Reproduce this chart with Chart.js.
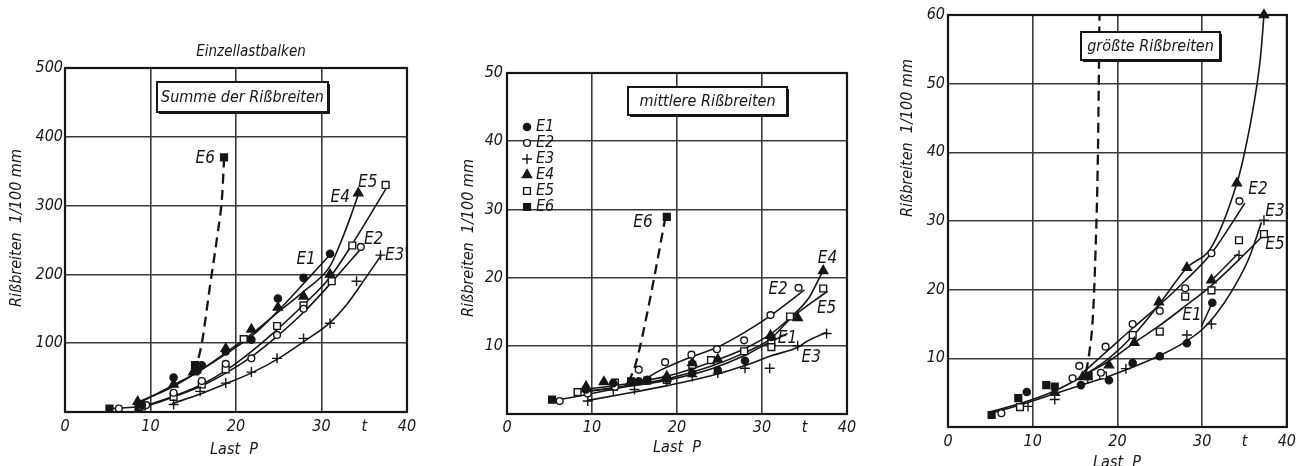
<!DOCTYPE html>
<html>
<head>
<meta charset="utf-8">
<script src="https://cdn.jsdelivr.net/npm/chart.js@4/dist/chart.umd.min.js"></script>
<style>
  html, body { margin: 0; padding: 0; background: #fff; }
  body { width: 1301px; height: 466px; position: relative; overflow: hidden; }
  canvas { position: absolute; top: 0; }
</style>
</head>
<body>
<canvas id="sumChart" width="440" height="466" style="left:0"></canvas>
<canvas id="meanChart" width="440" height="466" style="left:440px"></canvas>
<canvas id="maxChart" width="421" height="466" style="left:880px"></canvas>
<script>
// Load axis (t) shared by all three diagrams
const loadRange = [0, 40];
const seriesNames = ['E1', 'E2', 'E3', 'E4', 'E5', 'E6'];

// Summe der Rißbreiten (1/100 mm) - measured points
const sumE1 = [[9, 10], [12.7, 50], [15.5, 60], [16, 68], [18.8, 88], [21.8, 105], [24.9, 165], [27.9, 195], [31, 230]];
const sumE2 = [[6.3, 5], [9.5, 10], [12.7, 28], [16, 45], [18.8, 70], [21.8, 78], [24.8, 112], [27.9, 150], [34.6, 240]];
const sumE3 = [[12.7, 11], [15.8, 30], [18.8, 42], [21.8, 58], [24.8, 78], [27.9, 107], [31, 129], [34.1, 190], [36.9, 228]];
const sumE4 = [[8.5, 15], [12.7, 40], [15, 58], [18.8, 92], [21.8, 120], [24.9, 152], [27.9, 168], [31, 200], [34.3, 318]];
const sumE5 = [[9, 8], [12.7, 22], [16, 40], [18.8, 62], [20.9, 106], [24.8, 125], [27.9, 155], [31.2, 190], [33.6, 242], [37.5, 330]];
const sumE6 = [[5.2, 5], [8.6, 7], [15.2, 68], [18.6, 370]];
// Summe - fitted curves
const sumCurveE1 = [[8.5, 12], [12.5, 38], [15.5, 58], [19, 86], [22, 112], [25, 148], [28, 188], [30.8, 226]];
const sumCurveE2 = [[5.2, 5], [9.5, 9], [12.5, 21], [16, 38], [19, 58], [22, 82], [25, 112], [28, 146], [31, 186], [34.8, 240]];
const sumCurveE3 = [[12.5, 12], [16, 27], [19, 42], [22, 58], [25, 78], [28, 103], [31, 130], [33, 157], [35, 192], [37, 228]];
const sumCurveE4 = [[8.5, 14], [12.5, 36], [16, 62], [19, 88], [22, 115], [25, 146], [28, 176], [31, 212], [32.2, 245], [33.4, 284], [34.3, 316]];
const sumCurveE5 = [[9, 7], [12.5, 22], [16, 40], [19, 62], [22, 90], [25, 122], [28, 157], [31, 196], [34, 252], [37.7, 328]];
const sumCurveE6 = [[14.8, 58], [15.4, 70], [16, 100], [17, 187], [17.8, 255], [18.4, 318], [18.6, 367]];

// mittlere Rißbreiten - measured points
const meanE1 = [[9.3, 3.6], [12.5, 4.5], [15.5, 4.8], [16.5, 5], [18.8, 5.2], [21.8, 6], [24.8, 6.4], [28, 7.8], [31.1, 11.3]];
const meanE2 = [[6.2, 1.9], [9.5, 3], [12.7, 4], [15.5, 6.5], [18.6, 7.6], [21.7, 8.7], [24.7, 9.5], [27.9, 10.8], [31, 14.5], [34.3, 18.5]];
const meanE3 = [[9.5, 1.9], [12.5, 3.5], [15, 3.6], [18.8, 4.8], [21.8, 5.5], [24.8, 6], [28, 6.7], [30.9, 6.7], [34.2, 10], [37.6, 11.8]];
const meanE4 = [[9.3, 4], [11.4, 4.7], [14.5, 4.6], [18.8, 5.5], [21.8, 7.5], [24.8, 8], [31, 11.5], [34.2, 14.1], [37.2, 21]];
const meanE5 = [[8.3, 3.2], [12.7, 4.6], [16.5, 4.9], [18.8, 5], [21.8, 7.2], [24, 7.9], [27.9, 9.2], [31.1, 10.4], [31.1, 9.8], [33.3, 14.3], [37.2, 18.4]];
const meanE6 = [[5.3, 2.1], [14.6, 4.8], [18.8, 28.9]];
// mittlere - fitted curves
const meanCurveE1 = [[9.3, 3.3], [14, 4], [19, 5], [24, 6.6], [28, 8.6], [31, 10.6], [33, 11.8]];
const meanCurveE2 = [[5.3, 1.9], [9.5, 2.9], [14.5, 4.3], [16, 5], [18, 6.4], [21.5, 8.3], [24.6, 9.7], [28, 12], [31.1, 14.5], [35, 18.2]];
const meanCurveE3 = [[9.5, 2], [14, 3], [19, 4.2], [24, 5.6], [28, 7.1], [31, 8.5], [34.4, 9.9], [35.2, 10.6], [37.6, 12]];
const meanCurveE4 = [[9, 3.6], [14, 4.4], [19, 5.6], [24, 7.6], [28, 9.6], [31, 11.7], [33.2, 14], [35.5, 17], [37, 20.6]];
const meanCurveE5 = [[8.3, 3.2], [14, 4.1], [19, 5.2], [24, 7], [28, 9], [31, 11], [33.2, 13.8], [37.7, 18]];
const meanCurveE6 = [[14.3, 4.6], [15.2, 7.6], [16.8, 16.7], [18.6, 28.6]];

// größte Rißbreiten - measured points
const maxE1 = [[9.3, 5.1], [15.7, 6.1], [19, 6.8], [21.8, 9.3], [25, 10.3], [28.2, 12.2], [31.2, 18.1]];
const maxE2 = [[6.3, 2], [14.7, 7.1], [15.5, 8.9], [18.05, 7.9], [18.6, 11.7], [21.8, 15], [25, 16.9], [28, 20.2], [31.1, 25.3], [34.4, 32.9]];
const maxE3 = [[9.45, 3], [12.6, 4], [16.5, 7], [21, 8.5], [28.2, 13.4], [31.1, 15], [34.35, 25], [37.3, 30.1]];
const maxE4 = [[12.6, 5], [15.9, 7.3], [19, 9], [22, 12.3], [24.9, 18.2], [28.2, 23.2], [31.1, 21.4], [34.1, 35.5], [37.3, 60]];
const maxE5 = [[8.5, 2.9], [18.3, 7.5], [21.8, 13.4], [25, 13.9], [28, 19], [31.1, 19.9], [34.35, 27.2], [37.3, 28.1]];
const maxE6 = [[5.15, 1.75], [8.3, 4.2], [11.6, 6.1], [12.6, 5.9], [16.6, 7.4]];
// größte - fitted curves
const maxCurveE4 = [[5, 2.2], [9, 3.6], [12.5, 5.2], [16, 7.5], [19, 10], [22, 13.5], [25, 18], [28.2, 23.2], [31.1, 26.2], [34.1, 35.5], [35, 39.9], [36.2, 47.7], [36.9, 54], [37.3, 60]];
const maxCurveE2 = [[16, 8], [19, 11.3], [22, 14.6], [25, 17.8], [28, 21.3], [31.1, 25.3], [35.05, 32.6]];
const maxCurveE5 = [[16, 7.5], [19, 9.6], [22, 12.3], [25, 14.8], [28, 17.6], [31.1, 20.6], [34.3, 24.3], [37.3, 28]];
const maxCurveE3 = [[5, 2], [9, 3.4], [12.5, 4.8], [16, 6.2], [19, 7.4], [22, 8.8], [25, 10.4], [28, 12.4], [30, 14.2], [31.5, 16.2], [33.5, 19.8], [35.5, 24.5], [37, 29.8]];
const maxCurveE3b = [[31.4, 21.7], [34.2, 25.2]];
const maxCurveE1 = [[29.9, 14.6], [31.2, 18.1]];
const maxCurveE6 = [[16.3, 8], [16.7, 11], [17.1, 16], [17.4, 25], [17.7, 40], [17.9, 62]];

const ink = '#161616';
const gridInk = '#3a3a3a';
const face = '"DejaVu Sans Condensed", "DejaVu Sans", sans-serif';
const font = size => `italic ${size}px ${face}`;

const markerStyles = {
    E1: { pointStyle: 'circle', pointRadius: 3.6, pointBackgroundColor: ink },
    E2: { pointStyle: 'circle', pointRadius: 3.4, pointBackgroundColor: '#fff' },
    E3: { pointStyle: 'cross', pointRadius: 5, pointBackgroundColor: ink },
    E4: { pointStyle: 'triangle', pointRadius: 5.3, pointBackgroundColor: ink },
    E5: { pointStyle: 'rect', pointRadius: 4.8, pointBackgroundColor: '#fff' },
    E6: { pointStyle: 'rect', pointRadius: 4.8, pointBackgroundColor: ink }
};

const pts = pairs => pairs.map(([x, y]) => ({ x, y }));

const markerSet = (name, pairs) => ({
    label: name,
    data: pts(pairs),
    showLine: false,
    pointBorderColor: ink,
    pointBorderWidth: 1.4,
    clip: false,
    order: 0,
    ...markerStyles[name]
});

const curveSet = (pairs, dashed = false) => ({
    data: pts(pairs),
    showLine: true,
    pointRadius: 0,
    borderColor: ink,
    borderWidth: dashed ? 2.3 : 1.6,
    borderDash: dashed ? [10, 6] : [],
    cubicInterpolationMode: 'monotone',
    order: 1
});

// small marker glyphs for the legend box
const drawGlyph = (ctx, name, x, y) => {
    const s = markerStyles[name];
    const r = s.pointRadius;
    ctx.beginPath();
    if (s.pointStyle === 'circle') ctx.arc(x, y, r, 0, Math.PI * 2);
    if (s.pointStyle === 'rect') { const h = r * Math.SQRT1_2; ctx.rect(x - h, y - h, h * 2, h * 2); }
    if (s.pointStyle === 'triangle') {
        ctx.moveTo(x, y - r);
        ctx.lineTo(x + r * 0.866, y + r * 0.5);
        ctx.lineTo(x - r * 0.866, y + r * 0.5);
        ctx.closePath();
    }
    if (s.pointStyle === 'cross') {
        ctx.moveTo(x - r, y); ctx.lineTo(x + r, y);
        ctx.moveTo(x, y - r); ctx.lineTo(x, y + r);
        ctx.stroke();
        return;
    }
    ctx.fillStyle = s.pointBackgroundColor;
    ctx.fill();
    ctx.stroke();
};

// frame, captions, series labels and legend
const inkPlugin = {
    id: 'ink',
    afterDatasetsDraw(chart, args, opts) {
        const { ctx, chartArea: a, scales: { x, y } } = chart;
        ctx.save();
        ctx.strokeStyle = ink;
        ctx.lineWidth = 2.2;
        ctx.strokeRect(a.left, a.top, a.right - a.left, a.bottom - a.top);
        ctx.textAlign = 'center';
        ctx.textBaseline = 'middle';

        if (opts.box) {
            const b = opts.box;
            ctx.fillStyle = '#fff';
            ctx.fillRect(b.left, b.top, b.width, b.height);
            ctx.lineWidth = 2;
            ctx.strokeRect(b.left, b.top, b.width, b.height);
            ctx.lineWidth = 1;
            ctx.beginPath();
            ctx.moveTo(b.left + 2, b.top + b.height + 1.5);
            ctx.lineTo(b.left + b.width + 1.5, b.top + b.height + 1.5);
            ctx.lineTo(b.left + b.width + 1.5, b.top + 2);
            ctx.stroke();
            ctx.fillStyle = ink;
            ctx.font = font(16);
            ctx.fillText(b.text, b.left + b.width / 2, b.top + b.height / 2 + 1);
        }

        ctx.fillStyle = ink;
        ctx.font = font(17);
        (opts.labels || []).forEach(l => {
            ctx.fillText(l.text, x.getPixelForValue(l.x), y.getPixelForValue(l.y));
        });

        if (opts.legend) {
            const g = opts.legend;
            ctx.lineWidth = 1.4;
            ctx.textAlign = 'left';
            ctx.font = font(16);
            seriesNames.forEach((name, i) => {
                const cy = g.top + i * g.step;
                ctx.strokeStyle = ink;
                drawGlyph(ctx, name, g.x, cy);
                ctx.fillStyle = ink;
                ctx.fillText(name, g.textX, cy);
            });
            ctx.textAlign = 'center';
        }

        (opts.texts || []).forEach(t => {
            ctx.font = font(t.size || 16);
            ctx.fillStyle = ink;
            ctx.save();
            ctx.translate(t.x, t.y);
            if (t.rotate) ctx.rotate(-Math.PI / 2);
            ctx.fillText(t.text, 0, 0);
            ctx.restore();
        });
        ctx.restore();
    }
};

const tickFont = { family: face, size: 16, style: 'italic' };

const buildScales = p => ({
    x: {
        type: 'linear',
        min: loadRange[0],
        max: loadRange[1],
        afterFit: s => { s.height = p.xHeight; },
        border: { display: false },
        grid: {
            drawTicks: false,
            lineWidth: 1.6,
            color: c => (c.tick && c.tick.value % 10 === 0 ? gridInk : 'rgba(0,0,0,0)')
        },
        ticks: {
            stepSize: 5,
            autoSkip: false,
            maxRotation: 0,
            padding: p.xPad,
            color: ink,
            font: tickFont,
            callback: v => (v % 10 === 0 ? String(v) : v === 35 ? 't' : '')
        }
    },
    y: {
        type: 'linear',
        min: 0,
        max: p.yMax,
        afterFit: s => { s.width = p.yWidth; },
        border: { display: false },
        grid: { drawTicks: false, lineWidth: 1.6, color: gridInk },
        ticks: {
            stepSize: p.yStep,
            padding: p.yPad,
            color: ink,
            font: tickFont,
            callback: v => (v === 0 ? '' : String(v))
        }
    }
});

const buildChart = (id, p) => new Chart(document.getElementById(id), {
    type: 'scatter',
    data: { datasets: p.datasets },
    options: {
        responsive: false,
        animation: false,
        events: [],
        layout: { padding: p.padding },
        scales: buildScales(p),
        plugins: {
            legend: { display: false },
            tooltip: { enabled: false },
            ink: { box: p.box, labels: p.labels, legend: p.legend, texts: p.texts }
        }
    },
    plugins: [inkPlugin]
});

const yTitle = 'Rißbreiten  1/100 mm';

buildChart('sumChart', {
    yMax: 500, yStep: 100, xHeight: 54, yWidth: 65, xPad: 5, yPad: 2,
    padding: { left: 0, top: 68, right: 33, bottom: 0 },
    datasets: [
        curveSet(sumCurveE1), curveSet(sumCurveE2), curveSet(sumCurveE3),
        curveSet(sumCurveE4), curveSet(sumCurveE5), curveSet(sumCurveE6, true),
        markerSet('E1', sumE1), markerSet('E2', sumE2), markerSet('E3', sumE3),
        markerSet('E4', sumE4), markerSet('E5', sumE5), markerSet('E6', sumE6)
    ],
    box: { left: 157, top: 82, width: 171, height: 30, text: 'Summe der Rißbreiten' },
    labels: [
        { text: 'E6', x: 16.4, y: 369 }, { text: 'E4', x: 32.2, y: 312 },
        { text: 'E5', x: 35.4, y: 334 }, { text: 'E1', x: 28.2, y: 221 },
        { text: 'E2', x: 36.1, y: 250 }, { text: "E3'", x: 38.8, y: 227 }
    ],
    texts: [
        { text: 'Einzellastbalken', x: 251, y: 52, size: 15 },
        { text: yTitle, x: 17, y: 228, rotate: true },
        { text: 'Last  P', x: 234, y: 450 }
    ]
});

buildChart('meanChart', {
    yMax: 50, yStep: 10, xHeight: 52, yWidth: 67, xPad: 4, yPad: 4,
    padding: { left: 0, top: 73, right: 33, bottom: 0 },
    datasets: [
        curveSet(meanCurveE1), curveSet(meanCurveE2), curveSet(meanCurveE3),
        curveSet(meanCurveE4), curveSet(meanCurveE5), curveSet(meanCurveE6, true),
        markerSet('E1', meanE1), markerSet('E2', meanE2), markerSet('E3', meanE3),
        markerSet('E4', meanE4), markerSet('E5', meanE5), markerSet('E6', meanE6)
    ],
    box: { left: 188, top: 87, width: 159, height: 28, text: 'mittlere Rißbreiten' },
    legend: { x: 87, textX: 96, top: 127, step: 16 },
    labels: [
        { text: 'E6', x: 16.0, y: 28.0 }, { text: 'E4', x: 37.7, y: 22.8 },
        { text: 'E2', x: 31.9, y: 18.2 }, { text: 'E5', x: 37.6, y: 15.4 },
        { text: 'E1', x: 33.0, y: 11.1 }, { text: 'E3', x: 35.8, y: 8.2 }
    ],
    texts: [
        { text: yTitle, x: 29, y: 238, rotate: true },
        { text: 'Last  P', x: 237, y: 448 }
    ]
});

buildChart('maxChart', {
    yMax: 60, yStep: 10, xHeight: 39, yWidth: 68, xPad: 5, yPad: 3,
    padding: { left: 0, top: 15, right: 12, bottom: 0 },
    datasets: [
        curveSet(maxCurveE1), curveSet(maxCurveE2), curveSet(maxCurveE3), curveSet(maxCurveE3b),
        curveSet(maxCurveE4), curveSet(maxCurveE5), curveSet(maxCurveE6, true),
        markerSet('E1', maxE1), markerSet('E2', maxE2), markerSet('E3', maxE3),
        markerSet('E4', maxE4), markerSet('E5', maxE5), markerSet('E6', maxE6)
    ],
    box: { left: 201, top: 32, width: 139, height: 28, text: 'größte Rißbreiten' },
    labels: [
        { text: 'E2', x: 36.6, y: 34.6 }, { text: 'E3', x: 38.6, y: 31.4 },
        { text: 'E5', x: 38.6, y: 26.6 }, { text: 'E1', x: 28.8, y: 16.2 }
    ],
    texts: [
        { text: yTitle, x: 28, y: 138, rotate: true },
        { text: 'Last  P', x: 237, y: 463 }
    ]
});
</script>
</body>
</html>
